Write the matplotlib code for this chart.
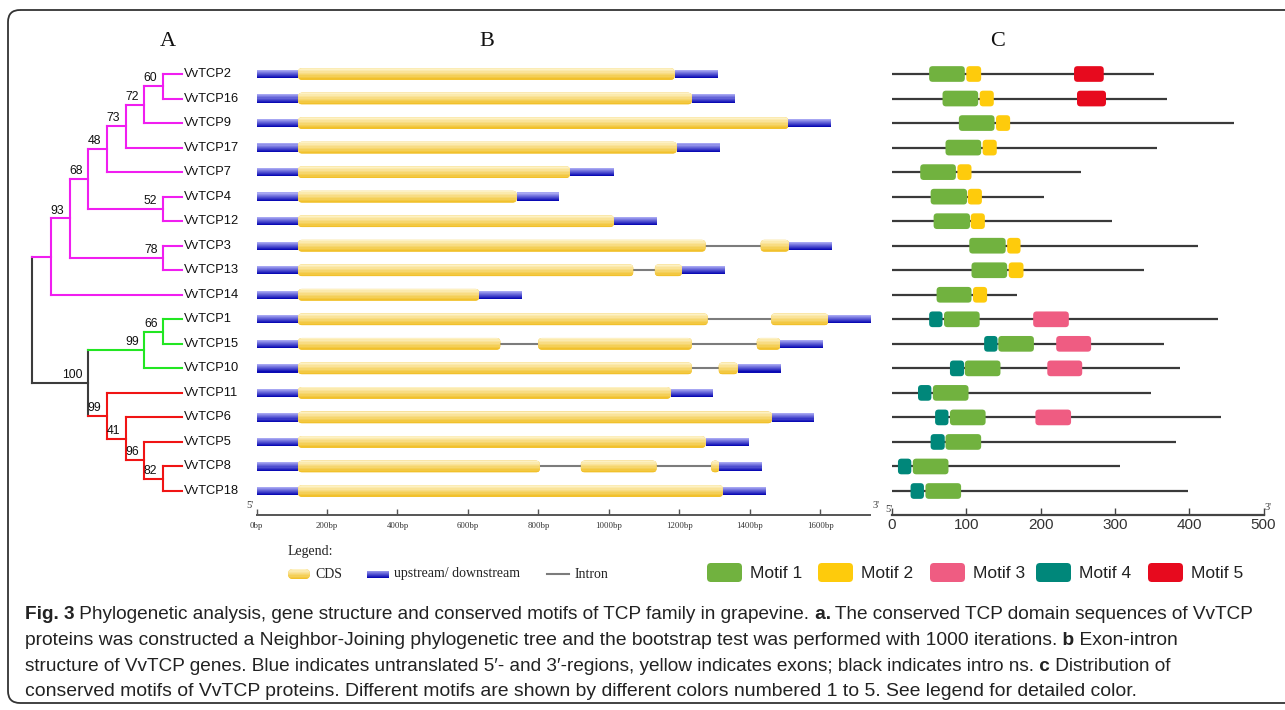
import matplotlib
matplotlib.use("Agg")
import matplotlib.pyplot as plt
from matplotlib.patches import FancyBboxPatch, Rectangle
from matplotlib import font_manager
from matplotlib.colors import to_rgb

# ---------------- data ----------------
genes = ["VvTCP2", "VvTCP16", "VvTCP9", "VvTCP17", "VvTCP7", "VvTCP4", "VvTCP12",
         "VvTCP3", "VvTCP13", "VvTCP14", "VvTCP1", "VvTCP15", "VvTCP10",
         "VvTCP11", "VvTCP6", "VvTCP5", "VvTCP8", "VvTCP18"]
gene_clade = ["I"] * 10 + ["II"] * 3 + ["III"] * 5

# Neighbor-joining tree: (bootstrap, [children]); leaves are gene names
tree = (None, [
    (None, [
        (93, [
            (68, [
                (48, [
                    (73, [
                        (72, [
                            (60, ["VvTCP2", "VvTCP16"]),
                            "VvTCP9"]),
                        "VvTCP17"]),
                    "VvTCP7"]),
                (52, ["VvTCP4", "VvTCP12"])]),
            (78, ["VvTCP3", "VvTCP13"])]),
        "VvTCP14"]),
    (100, [
        (99, [(66, ["VvTCP1", "VvTCP15"]), "VvTCP10"]),
        (99, ["VvTCP11",
              (41, ["VvTCP6",
                    (96, ["VvTCP5", (82, ["VvTCP8", "VvTCP18"])])])])]),
])

# gene structure (bp)
utr5_end = [118] * 18
cds_exons = [
    [(118, 1186)],
    [(118, 1235)],
    [(118, 1509)],
    [(118, 1192)],
    [(118, 889)],
    [(118, 738)],
    [(118, 1014)],
    [(118, 1274), (1430, 1511)],
    [(118, 1069), (1130, 1207)],
    [(118, 632)],
    [(118, 1280), (1460, 1622)],
    [(118, 692), (799, 1235), (1419, 1486)],
    [(118, 1235), (1311, 1365)],
    [(118, 1175)],
    [(118, 1462)],
    [(118, 1274)],
    [(118, 804), (920, 1135), (1290, 1313)],
    [(118, 1323)],
]
gene_end = [1308, 1357, 1631, 1315, 1013, 859, 1136, 1633, 1329, 754,
            1742, 1608, 1487, 1296, 1582, 1396, 1435, 1445]
bp_ticks = [0, 200, 400, 600, 800, 1000, 1200, 1400, 1600]
bp_labels = ["0bp", "200bp", "400bp", "600bp", "800bp", "1000bp", "1200bp", "1400bp", "1600bp"]

# conserved motifs (aa): (motif id, start, end)
protein_len = [353, 370, 460, 356, 255, 204, 296, 412, 339, 168,
               439, 366, 387, 349, 443, 382, 307, 398]
motifs = [
    [(1, 50, 98), (2, 100, 120), (5, 245, 285)],
    [(1, 68, 116), (2, 118, 137), (5, 249, 288)],
    [(1, 90, 138), (2, 140, 159)],
    [(1, 72, 120), (2, 122, 141)],
    [(1, 38, 86), (2, 88, 107)],
    [(1, 52, 101), (2, 102, 121)],
    [(1, 56, 105), (2, 106, 125)],
    [(1, 104, 153), (2, 155, 173)],
    [(1, 107, 155), (2, 157, 177)],
    [(1, 60, 107), (2, 109, 128)],
    [(4, 50, 68), (1, 70, 118), (3, 190, 238)],
    [(4, 124, 142), (1, 143, 191), (3, 221, 268)],
    [(4, 78, 97), (1, 98, 146), (3, 209, 256)],
    [(4, 35, 53), (1, 55, 103)],
    [(4, 58, 76), (1, 78, 126), (3, 193, 241)],
    [(4, 52, 71), (1, 72, 120)],
    [(4, 8, 26), (1, 28, 76)],
    [(4, 25, 43), (1, 45, 93)],
]
aa_ticks = [0, 100, 200, 300, 400, 500]
motif_names = ["Motif 1", "Motif 2", "Motif 3", "Motif 4", "Motif 5"]

# ---------------- style ----------------
clade_colors = {"I": "#F01EF0", "II": "#22E622", "III": "#F01414"}
ROOT_COLOR = "#3c3c3c"
motif_colors = {1: "#71B23F", 2: "#FECB0C", 3: "#EF5C82", 4: "#00877A", 5: "#E70A1E"}
CDS_TOP, CDS_BOT = "#FDF1C4", "#F1C12C"
UTR_TOP, UTR_BOT = "#A6A6F2", "#0A0AB4"

W, H = 1285, 710
fig = plt.figure(figsize=(W / 100, H / 100), dpi=100)
fig.patch.set_facecolor("white")

names = {f.name for f in font_manager.fontManager.ttflist}
def pick(*cands):
    for c in cands:
        if c in names:
            return c
    return "DejaVu Sans"
SANS = pick("Liberation Sans", "Arial")
NARROW = pick("Liberation Sans Narrow", "Liberation Sans")
SERIF = pick("Liberation Serif", "DejaVu Serif")

# overlay (pixel coordinates) for frame, titles, legends, caption
ax_o = fig.add_axes([0, 0, 1, 1])
ax_o.set_xlim(0, W)
ax_o.set_ylim(H, 0)
ax_o.axis("off")

ROW0, STEP = 74.0, 24.53
AX_TOP, AX_BOT = 50, 530
AXIS_ROW = (515 - ROW0) / STEP


def add_px_axes(l, r):
    ax = fig.add_axes([l / W, 1 - AX_BOT / H, (r - l) / W, (AX_BOT - AX_TOP) / H])
    ax.set_ylim((AX_BOT - ROW0) / STEP, (AX_TOP - ROW0) / STEP)
    ax.set_facecolor("none")
    return ax


def mix(c1, c2, t):
    a, b = to_rgb(c1), to_rgb(c2)
    return tuple(a[i] + (b[i] - a[i]) * t for i in range(3))


def grad_box(ax, x0, x1, y, h, ctop, cbot, r=None, aspect=1.0, n=8, z=3):
    if r is not None:
        body = FancyBboxPatch((x0, y - h / 2), x1 - x0, h,
                              boxstyle=f"round,pad=0,rounding_size={r}",
                              mutation_aspect=aspect, fc=cbot, ec="none", zorder=z)
    else:
        body = Rectangle((x0, y - h / 2), x1 - x0, h, fc=cbot, ec="none", zorder=z)
    ax.add_patch(body)
    for k in range(n):
        band = Rectangle((x0, y - h / 2 + k * h / n), x1 - x0, h / n * 1.05,
                         fc=mix(ctop, cbot, k / (n - 1)), ec="none", zorder=z + 0.1)
        ax.add_patch(band)
        band.set_clip_path(body)


# ---------------- A: tree ----------------
TIP_PX, LEVEL_PX = 181.7, 18.68
ax_t = add_px_axes(20, 250)
ax_t.set_xlim((TIP_PX - 20) / LEVEL_PX, (TIP_PX - 250) / LEVEL_PX)
ax_t.axis("off")
LW = 1.5


def build(node):
    if isinstance(node, str):
        i = genes.index(node)
        return {"name": node, "y": i, "h": 0, "color": clade_colors[gene_clade[i]],
                "kids": [], "sup": None}
    sup, kids = node
    ks = [build(k) for k in kids]
    cols = {k["color"] for k in ks}
    return {"name": None, "y": (ks[0]["y"] + ks[-1]["y"]) / 2,
            "h": 1 + max(k["h"] for k in ks),
            "color": cols.pop() if len(cols) == 1 else ROOT_COLOR,
            "kids": ks, "sup": sup}


def draw(n):
    if not n["kids"]:
        ax_t.text(-0.12, n["y"], n["name"], fontsize=9.3, family=SANS, color="#111",
                  ha="left", va="center")
        return
    ax_t.plot([n["h"], n["h"]], [n["kids"][0]["y"], n["kids"][-1]["y"]],
              color=n["color"], lw=LW, solid_capstyle="projecting")
    for k in n["kids"]:
        ax_t.plot([n["h"], k["h"]], [k["y"], k["y"]], color=k["color"], lw=LW,
                  solid_capstyle="projecting")
        draw(k)
    if n["sup"] is not None:
        ax_t.annotate(str(n["sup"]), (n["h"], n["y"]), xytext=(-4, 3.5),
                      textcoords="offset points", ha="right", va="baseline",
                      fontsize=8.8, family=NARROW, color="#111")


draw(build(tree))

# ---------------- B: gene structure ----------------
BP_PX = 0.3525
GENE_MAX = 1740
ax_g = add_px_axes(256.5, 256.5 + GENE_MAX * BP_PX)
ax_g.set_xlim(0, GENE_MAX)
asp_g = BP_PX / STEP
for i in range(len(genes)):
    ex = cds_exons[i]
    grad_box(ax_g, 0, utr5_end[i], i, 0.34, UTR_TOP, UTR_BOT)
    for j, (s, e) in enumerate(ex):
        grad_box(ax_g, s, e, i, 0.48, CDS_TOP, CDS_BOT, r=4 / BP_PX, aspect=asp_g)
        if j + 1 < len(ex):
            ax_g.plot([e, ex[j + 1][0]], [i, i], color="#7c7c7c", lw=1.5, zorder=2)
    grad_box(ax_g, ex[-1][1], gene_end[i], i, 0.34, UTR_TOP, UTR_BOT)

for s in ["left", "right", "top"]:
    ax_g.spines[s].set_visible(False)
ax_g.spines["bottom"].set_position(("data", AXIS_ROW))
ax_g.spines["bottom"].set_color("#555")
ax_g.spines["bottom"].set_linewidth(1.4)
ax_g.set_yticks([])
ax_g.set_xticks(bp_ticks)
ax_g.set_xticklabels(bp_labels, family=SERIF, fontsize=6.3, color="#333")
ax_g.tick_params(axis="x", direction="in", length=4, width=1, color="#555", pad=5)

# ---------------- C: motifs ----------------
AA_PX = 0.743
ax_m = add_px_axes(892, 892 + 500 * AA_PX)
ax_m.set_xlim(0, 500)
asp_m = AA_PX / STEP
for i in range(len(genes)):
    ax_m.plot([0, protein_len[i]], [i, i], color="#3a3a3a", lw=1.6, zorder=1,
              solid_capstyle="butt")
    for (mid, s, e) in motifs[i]:
        ax_m.add_patch(FancyBboxPatch((s, i - 0.32), e - s, 0.64,
                                      boxstyle=f"round,pad=0,rounding_size={3.5 / AA_PX}",
                                      mutation_aspect=asp_m, fc=motif_colors[mid],
                                      ec="none", zorder=3))
for s in ["left", "right", "top"]:
    ax_m.spines[s].set_visible(False)
ax_m.spines["bottom"].set_position(("data", AXIS_ROW))
ax_m.spines["bottom"].set_color("#444")
ax_m.spines["bottom"].set_linewidth(1.6)
ax_m.set_yticks([])
ax_m.set_xticks(aa_ticks)
ax_m.set_xticklabels([str(t) for t in aa_ticks], family=NARROW, fontsize=11, color="#333")
ax_m.tick_params(axis="x", direction="in", length=5, width=1, color="#444", pad=2)

# ---------------- overlay: frame, titles, legends ----------------
ax_o.add_patch(FancyBboxPatch((8, 10), 1320, 693, boxstyle="round,pad=0,rounding_size=12",
                              fc="none", ec="#333", lw=1.3))
for lab, x in [("A", 168), ("B", 487), ("C", 998)]:
    ax_o.text(x, 42, lab, family=SERIF, fontsize=16, ha="center", va="center", color="#111")

for txt, x, y in [("5'", 250, 506), ("3'", 876, 506), ("5'", 889, 509), ("3'", 1268, 507)]:
    ax_o.text(x, y, txt, family=SERIF, fontsize=7.5, ha="center", va="center", color="#333")

# gene structure legend
ax_o.text(288, 552, "Legend:", family=SERIF, fontsize=10, ha="left", va="center", color="#222")
grad_box(ax_o, 288, 310, 574, 10, CDS_TOP, CDS_BOT, r=5)
ax_o.text(315, 574, "CDS", family=SERIF, fontsize=10, ha="left", va="center", color="#222")
grad_box(ax_o, 367, 389, 574, 7, UTR_TOP, UTR_BOT)
ax_o.text(394, 574, "upstream/ downstream", family=SERIF, fontsize=10, ha="left",
          va="center", color="#222")
ax_o.plot([547, 569], [574, 574], color="#7c7c7c", lw=1.5)
ax_o.text(575, 574, "Intron", family=SERIF, fontsize=10, ha="left", va="center", color="#222")

# motif legend
sw_x = [707, 818, 930, 1036, 1148]
for k, name in enumerate(motif_names):
    ax_o.add_patch(FancyBboxPatch((sw_x[k], 563), 35, 19,
                                  boxstyle="round,pad=0,rounding_size=4",
                                  fc=motif_colors[k + 1], ec="none"))
    ax_o.text(sw_x[k] + 43, 573, name, family=NARROW, fontsize=12.5, ha="left",
              va="center", color="#222")

# ---------------- caption ----------------
cap_lines = [
    [("Fig. 3", True),
     (" Phylogenetic analysis, gene structure and conserved motifs of TCP family in grapevine.", False),
     (" a.", True), (" The conserved TCP domain sequences of VvTCP", False)],
    [("proteins was constructed a Neighbor-Joining phylogenetic tree and the bootstrap test was performed with 1000 iterations.", False),
     (" b", True), (" Exon-intron", False)],
    [("structure of VvTCP genes. Blue indicates untranslated 5\u2032- and 3\u2032-regions, yellow indicates exons; black indicates intro ns.", False),
     (" c", True), (" Distribution of", False)],
    [("conserved motifs of VvTCP proteins. Different motifs are shown by different colors numbered 1 to 5. See legend for detailed color.", False)],
]
cap_base = [619, 645, 671, 696]
cap_width = [1237, 1156, 1158, 1118]
CAP_FAM = [NARROW, "DejaVu Sans"]
renderer = fig.canvas.get_renderer()


def rich(x, y, parts, size, draw_it=True):
    start = x
    made = []
    for txt, bold in parts:
        t = ax_o.text(x, y, txt, fontsize=size, family=CAP_FAM,
                      fontweight="bold" if bold else "normal",
                      ha="left", va="baseline", color="#222")
        x += t.get_window_extent(renderer).width
        made.append(t)
    if not draw_it:
        for t in made:
            t.remove()
    return x - start


for parts, yb, wt in zip(cap_lines, cap_base, cap_width):
    w10 = rich(25, yb, parts, 10, draw_it=False)
    rich(25, yb, parts, 10 * wt / w10)

fig.savefig("out.png", dpi=100, facecolor="white")
